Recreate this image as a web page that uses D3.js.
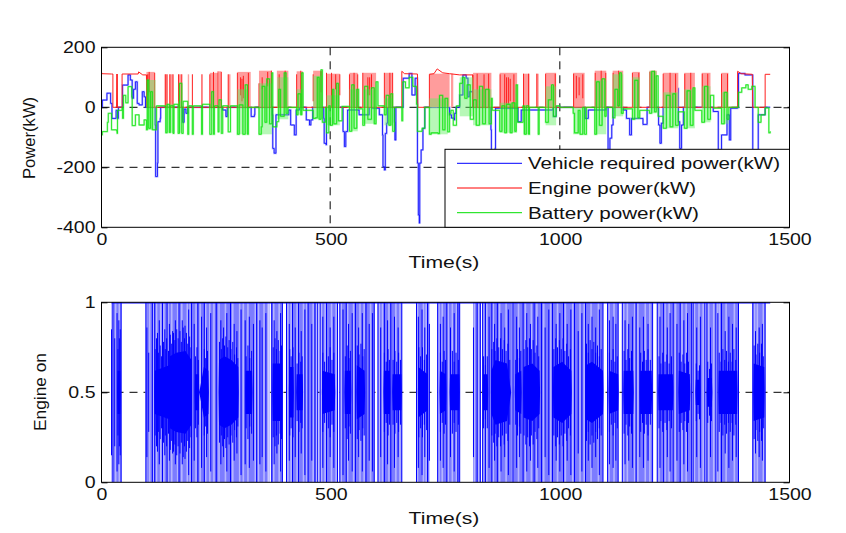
<!DOCTYPE html>
<html>
<head>
<meta charset="utf-8">
<script src="https://cdn.jsdelivr.net/npm/d3@7"></script>
<style>
  html, body { margin: 0; background: #fff; }
  text { font-family: "Liberation Sans", Arial, sans-serif; fill: #111; }
</style>
</head>
<body>
<svg id="chart" width="846" height="533"></svg>
<script>
// all values, time in s, power in kW

var xTicks = [0, 500, 1000, 1500];
var powerTicks = [200, 0, -200, -400];
var engineTicks = [1, 0.5, 0];
var legendNames = ["Vehicle required power(kW)", "Engine power(kW)", "Battery power(kW)"];

// vehicle required power [t, kW]
var vehiclePower = [[0,0],[3,0],[4,24],[11,24],[14,47],[20,47],[22,13],[25,-37],[32,-37],[34,-10],[37,-37],[39,0],[47,0],[48,74],[51,74],[55,74],[60,108],[65,91],[69,30],[72,60],[76,85],[80,13],[84,8],[91,52],[95,35],[98,0],[118,0],[119,-59],[120,-231],[124,-186],[125,-48],[130,-37],[131,0],[178,0],[179,-50],[182,-6],[186,-20],[190,0],[265,0],[266,-9],[273,-31],[276,0],[327,0],[328,-31],[335,-25],[336,0],[373,0],[374,-25],[375,-137],[378,-153],[382,-25],[410,-9],[414,-59],[422,-92],[426,-9],[433,0],[447,0],[448,-42],[455,-59],[458,-42],[462,0],[485,0],[486,-37],[487,-120],[491,-125],[492,0],[501,0],[502,63],[515,63],[516,0],[527,0],[528,-81],[531,-131],[534,-81],[538,-9],[563,-25],[585,52],[592,-3],[607,-25],[614,-92],[615,-198],[618,-209],[620,-87],[623,-53],[625,0],[638,0],[640,-48],[641,-109],[642,-109],[643,0],[658,0],[659,97],[672,113],[678,41],[685,97],[690,-186],[692,-359],[694,-386],[695,-186],[698,-142],[702,-70],[706,0],[731,0],[760,-25],[764,-36],[770,-42],[771,-20],[774,0],[782,41],[789,108],[796,97],[800,35],[803,52],[811,0],[849,0],[850,-75],[851,-160],[858,-160],[859,-137],[860,-3],[909,0],[909,-48],[916,-9],[985,0],[986,-31],[991,-31],[992,0],[1054,0],[1055,-37],[1062,-9],[1100,0],[1105,-142],[1109,-103],[1113,-59],[1116,0],[1138,-9],[1145,-37],[1152,-92],[1156,-37],[1174,-37],[1181,-57],[1189,-57],[1190,0],[1214,0],[1215,-59],[1218,-120],[1221,-53],[1225,0],[1243,63],[1258,-48],[1261,-137],[1265,-59],[1269,0],[1334,-14],[1345,-142],[1352,-92],[1364,-25],[1369,-109],[1372,-3],[1387,0],[1389,113],[1403,108],[1418,108],[1420,-142],[1425,-142],[1432,-25],[1447,0],[1458,0]];

// engine power, line part [t, kW]
var enginePower = [[0,130],[3,112],[24,111],[27,111],[27,0],[35,0],[36,111],[37,0],[47,0],[47,111],[82,111],[83,118],[92,108],[100,108],[101,0],[118,0],[119,0],[142,0],[656,0],[656,120],[662,112],[690,111],[691,0],[716,0],[716,110],[726,112],[733,128],[745,115],[760,112],[782,108],[811,108],[811,0],[1387,0],[1387,120],[1395,112],[1419,110],[1420,0],[1447,0],[1447,110],[1458,110]];

// stretches where the engine trace chops between 0 and full power [from, to, top]
var engineBands = [[100,118,118],[140,145,110],[150,158,110],[169,177,110],[190,193,110],[200,201,110],[220,221,110],[238,256,115],[258,263,120],[278,283,110],[298,327,118],[345,373,122],[384,409,122],[427,441,120],[463,483,122],[492,521,112],[542,560,115],[571,600,115],[618,636,115],[716,760,112],[763,768,112],[811,851,115],[869,907,115],[920,934,112],[949,954,112],[969,992,115],[1029,1054,115],[1076,1101,122],[1115,1138,122],[1158,1174,118],[1195,1211,122],[1225,1258,115],[1271,1294,115],[1309,1328,115],[1352,1367,115]];

// darker lines inside those stretches [t, low, high]
var engineLines = [[36,0,111],[101,0,108],[103,40,110],[106,50,118],[118,0,115],[141,0,110],[145,0,110],[151,0,110],[158,0,110],[170,0,110],[177,0,110],[200,0,110],[221,0,110],[238,0,110],[246,0,118],[256,0,120],[263,0,118],[278,0,110],[298,0,115],[305,40,100],[308,20,95],[311,30,105],[322,0,115],[345,0,80],[352,60,100],[364,70,118],[372,0,122],[389,0,110],[402,0,122],[427,0,110],[436,0,122],[463,20,110],[480,50,120],[492,0,115],[503,0,115],[512,60,110],[521,40,110],[542,0,110],[552,0,115],[560,0,110],[571,0,115],[582,40,100],[586,40,100],[590,60,110],[618,0,115],[630,0,115],[636,0,115],[810,0,108],[820,0,112],[835,0,110],[845,0,112],[870,0,110],[880,0,110],[884,10,100],[888,10,100],[892,20,95],[900,0,110],[921,0,112],[932,0,112],[950,0,112],[969,0,112],[990,0,112],[1030,0,112],[1036,30,105],[1042,40,100],[1050,30,110],[1077,0,115],[1090,0,122],[1100,0,115],[1116,0,115],[1128,0,122],[1158,0,115],[1172,0,115],[1196,0,118],[1206,0,122],[1225,0,112],[1240,0,115],[1252,0,112],[1272,0,112],[1285,0,115],[1310,0,112],[1322,0,112],[1352,0,112],[1365,0,112]];

// battery power line [t, kW]
var batteryPower = [[0,-92],[4,-81],[15,-50],[17,-20],[22,-20],[24,-75],[35,-78],[36,-87],[37,-10],[47,0],[48,-37],[50,40],[55,15],[60,69],[68,35],[69,-61],[76,-25],[84,-59],[95,-42],[100,-75],[102,91],[105,-70],[109,52],[113,-75],[120,-75],[122,5],[140,3],[142,-85],[145,10],[150,-84],[152,5],[158,-87],[160,10],[169,-87],[172,80],[177,-87],[180,20],[190,-90],[192,5],[200,-90],[202,5],[220,-90],[222,10],[238,-90],[242,52],[246,-90],[248,5],[256,-82],[258,25],[263,-87],[266,5],[278,-82],[283,5],[298,-90],[302,8],[310,-90],[315,75],[320,-90],[322,0],[345,-90],[350,-65],[352,70],[358,-50],[362,95],[368,-55],[373,115],[375,-65],[384,-48],[388,60],[392,-30],[400,115],[404,-20],[408,0],[427,-25],[430,45],[436,-25],[438,115],[441,-10],[463,-37],[468,-35],[472,100],[476,-40],[480,125],[483,-50],[490,0],[492,-85],[497,5],[500,-60],[505,60],[508,-55],[514,80],[518,-45],[526,3],[542,-80],[547,75],[552,-70],[558,60],[562,-5],[571,-60],[575,70],[582,-40],[590,65],[596,-55],[600,85],[604,5],[618,-25],[622,40],[628,-60],[632,45],[636,-80],[640,0],[656,-45],[658,85],[664,65],[672,100],[680,70],[688,10],[690,-80],[700,-70],[706,0],[716,-90],[720,-85],[735,-88],[738,40],[745,-75],[750,30],[756,-82],[760,-20],[763,-10],[768,-60],[775,5],[782,80],[788,100],[793,30],[798,75],[805,-40],[812,25],[818,-60],[825,70],[832,-55],[838,60],[846,-55],[851,30],[853,-10],[869,-80],[874,5],[880,-85],[884,10],[892,-85],[896,15],[902,-80],[905,75],[908,-50],[920,5],[923,-90],[927,5],[932,-90],[934,0],[950,0],[953,-90],[955,0],[969,-50],[975,25],[982,75],[986,-30],[992,5],[1000,0],[1029,-20],[1032,-85],[1040,-10],[1044,-90],[1050,0],[1054,-90],[1058,0],[1076,-90],[1080,85],[1086,-60],[1092,95],[1098,-30],[1101,0],[1115,-35],[1120,60],[1126,5],[1130,115],[1134,-20],[1138,-5],[1158,-40],[1163,90],[1170,-35],[1174,-10],[1195,-20],[1200,120],[1206,-15],[1210,105],[1214,-30],[1225,-70],[1232,40],[1240,-65],[1246,45],[1252,-60],[1258,-15],[1271,-70],[1277,55],[1284,-60],[1290,65],[1294,-10],[1309,-50],[1315,70],[1322,-40],[1328,40],[1335,-3],[1352,-55],[1358,50],[1364,-40],[1368,0],[1387,0],[1389,50],[1396,65],[1405,75],[1410,60],[1418,70],[1425,0],[1432,-50],[1438,-25],[1447,-2],[1455,-85],[1458,-80]];

// pale haze left by the fast battery chopping [from, to, low, high]
var batteryBands = [[100,120,-75,91],[142,160,-85,10],[169,177,-85,20],[298,320,-90,60],[345,373,-90,80],[385,409,-40,100],[427,441,-25,60],[463,483,-40,105],[492,521,-60,40],[542,560,-80,60],[571,600,-55,60],[618,636,-60,30],[716,756,-90,30],[782,811,-30,100],[811,851,-60,60],[869,907,-85,15],[920,934,-90,0],[969,992,-60,70],[1029,1054,-90,0],[1076,1101,-90,90],[1115,1138,-30,110],[1158,1174,-40,100],[1195,1211,-20,120],[1225,1258,-70,50],[1271,1294,-70,60],[1309,1328,-50,70],[1352,1367,-55,50]];

// engine on/off: stretches of chopping [from, to]
var onBands = [[24,45],[98,113],[114,364],[371,396],[405,473],[478,516],[521,596],[604,656],[688,716],[734,782],[811,827],[831,1094],[1104,1127],[1136,1202],[1212,1247],[1249,1287],[1290,1316],[1320,1340],[1343,1389],[1420,1447]];

// lighter stripes inside the stretches
var onPale = [26,33,41,100,107,116,122,131,138,147,155,168,177,189,195,208,217,229,238,247,258,272,288,303,311,321,337,344,356,367,377,389,408,415,428,442,449,463,470,481,489,503,513,524,538,551,565,574,588,607,614,628,643,652,690,703,709,737,744,757,766,775,814,823,834,841,855,869,883,897,910,925,938,950,965,980,995,1012,1028,1044,1053,1068,1084,1107,1118,1139,1147,1163,1170,1186,1196,1216,1229,1238,1252,1266,1275,1293,1303,1312,1324,1335,1347,1362,1380,1424,1430,1443];

// solid core around 0.5 in those stretches [t, half height]
var onCore = [[24,0],[36,0],[37,0.12],[43,0.12],[44,0],[117,0],[118,0.12],[150,0.15],[151,0.2],[165,0.22],[185,0.23],[198,0.18],[199,0],[205,0],[206,0.1],[214,0.1],[215,0],[225,0.14],[235,0.12],[236,0],[257,0],[258,0.18],[270,0.2],[285,0.18],[300,0.14],[301,0],[315,0],[316,0.12],[330,0.12],[331,0],[374,0],[375,0.16],[395,0.16],[396,0],[410,0],[411,0.14],[420,0.14],[421,0],[426,0],[427,0.1],[440,0.1],[441,0],[482,0],[483,0.12],[510,0.1],[511,0],[531,0],[532,0.12],[545,0.12],[546,0],[557,0],[558,0.15],[575,0.12],[576,0],[616,0],[617,0.12],[630,0.12],[631,0],[635,0],[636,0.1],[655,0.1],[656,0],[691,0],[692,0.14],[712,0.1],[713,0],[738,0],[739,0.12],[752,0.1],[753,0],[760,0],[761,0.1],[781,0.1],[782,0],[832,0],[833,0.1],[843,0.1],[844,0],[850,0],[851,0.12],[860,0.18],[885,0.16],[894,0],[902,0],[903,0.1],[916,0.12],[917,0],[920,0],[921,0.14],[940,0.16],[956,0.12],[957,0],[985,0],[986,0.14],[1005,0.17],[1025,0.12],[1026,0],[1056,0],[1057,0.15],[1070,0.17],[1094,0.12],[1095,0],[1106,0],[1107,0.12],[1127,0.1],[1128,0],[1138,0],[1139,0.12],[1160,0.12],[1161,0],[1174,0],[1175,0.12],[1200,0.12],[1201,0],[1214,0],[1215,0.1],[1246,0.1],[1247,0],[1258,0],[1259,0.12],[1283,0.1],[1284,0],[1295,0],[1296,0.07],[1305,0.07],[1306,0],[1320,0],[1321,0.08],[1331,0.08],[1332,0],[1345,0],[1346,0.12],[1386,0.12],[1387,0],[1421,0],[1422,0.16],[1445,0.14],[1446,0]];

// jagged edge of the core [t, half height]
var onEdge = [[38,0.24],[41,0.3],[119,0.24],[122,0.3],[126,0.22],[130,0.26],[133,0.2],[137,0.28],[141,0.24],[144,0.3],[148,0.23],[152,0.32],[155,0.27],[159,0.33],[162,0.29],[166,0.35],[169,0.3],[173,0.34],[176,0.28],[180,0.36],[183,0.3],[187,0.33],[190,0.27],[194,0.31],[197,0.25],[207,0.2],[210,0.25],[213,0.18],[226,0.24],[229,0.19],[233,0.23],[259,0.28],[263,0.24],[266,0.3],[270,0.26],[273,0.31],[277,0.25],[280,0.29],[284,0.24],[288,0.28],[292,0.21],[296,0.25],[299,0.19],[317,0.2],[321,0.26],[325,0.19],[329,0.23],[376,0.25],[380,0.3],[383,0.24],[387,0.29],[391,0.23],[394,0.26],[412,0.24],[415,0.2],[419,0.25],[428,0.16],[432,0.22],[436,0.17],[439,0.2],[484,0.22],[488,0.17],[492,0.24],[496,0.2],[500,0.25],[504,0.18],[508,0.22],[533,0.2],[537,0.26],[541,0.19],[544,0.23],[559,0.26],[563,0.21],[567,0.27],[571,0.2],[574,0.24],[618,0.22],[622,0.17],[626,0.24],[629,0.18],[637,0.18],[641,0.23],[645,0.17],[649,0.22],[653,0.18],[693,0.25],[697,0.2],[701,0.25],[705,0.18],[710,0.21],[740,0.22],[744,0.17],[748,0.23],[751,0.18],[762,0.18],[766,0.23],[770,0.17],[774,0.22],[779,0.18],[834,0.2],[838,0.15],[842,0.2],[852,0.24],[856,0.28],[859,0.23],[863,0.3],[867,0.25],[871,0.3],[875,0.24],[879,0.29],[883,0.23],[887,0.27],[891,0.18],[904,0.18],[908,0.24],[912,0.19],[915,0.23],[922,0.24],[926,0.29],[930,0.25],[934,0.3],[938,0.24],[942,0.29],[946,0.22],[950,0.26],[954,0.2],[987,0.24],[991,0.3],[995,0.25],[999,0.29],[1003,0.24],[1007,0.3],[1011,0.23],[1015,0.27],[1019,0.2],[1023,0.24],[1058,0.27],[1062,0.22],[1066,0.29],[1070,0.24],[1074,0.28],[1078,0.22],[1082,0.26],[1086,0.2],[1090,0.24],[1108,0.22],[1112,0.18],[1116,0.24],[1120,0.17],[1125,0.2],[1140,0.23],[1144,0.18],[1148,0.24],[1152,0.19],[1156,0.23],[1176,0.22],[1180,0.17],[1184,0.23],[1188,0.18],[1192,0.24],[1197,0.18],[1216,0.2],[1220,0.16],[1224,0.22],[1229,0.17],[1233,0.21],[1238,0.16],[1243,0.2],[1260,0.22],[1264,0.17],[1268,0.21],[1272,0.16],[1276,0.22],[1280,0.17],[1297,0.16],[1301,0.12],[1304,0.15],[1322,0.17],[1326,0.13],[1330,0.16],[1347,0.22],[1351,0.17],[1355,0.24],[1359,0.18],[1363,0.23],[1367,0.17],[1371,0.22],[1375,0.17],[1379,0.24],[1383,0.18],[1423,0.26],[1427,0.21],[1431,0.27],[1435,0.22],[1439,0.27],[1443,0.2]];

// single chops standing out of the core [t, half height]
var onSpikes = [[24,0.35],[27,0.5],[31,0.3],[36,0.44],[40,0.4],[43,0.35],[45,0.5],[99,0.5],[101,0.36],[105,0.22],[113,0.5],[118,0.5],[124,0.33],[128,0.4],[135,0.5],[140,0.35],[145,0.5],[150,0.38],[157,0.34],[163,0.4],[171,0.5],[178,0.4],[184,0.37],[192,0.46],[198,0.5],[204,0.38],[212,0.5],[220,0.42],[226,0.5],[231,0.36],[240,0.44],[252,0.5],[262,0.4],[268,0.36],[275,0.44],[283,0.5],[291,0.38],[297,0.34],[306,0.46],[315,0.4],[324,0.42],[333,0.38],[340,0.5],[347,0.4],[352,0.36],[360,0.44],[373,0.5],[378,0.4],[384,0.34],[392,0.44],[396,0.5],[405,0.5],[411,0.38],[418,0.5],[424,0.36],[431,0.5],[437,0.34],[445,0.46],[452,0.5],[460,0.38],[467,0.5],[473,0.5],[478,0.5],[484,0.42],[492,0.5],[500,0.36],[508,0.42],[516,0.5],[521,0.5],[528,0.46],[535,0.5],[540,0.38],[548,0.44],[555,0.5],[562,0.36],[570,0.44],[578,0.5],[585,0.38],[592,0.44],[596,0.5],[604,0.5],[610,0.36],[618,0.5],[625,0.4],[632,0.5],[640,0.42],[648,0.36],[656,0.5],[688,0.5],[692,0.42],[700,0.46],[706,0.36],[712,0.5],[716,0.38],[734,0.5],[740,0.38],[746,0.42],[754,0.5],[762,0.36],[770,0.44],[778,0.5],[782,0.5],[812,0.36],[820,0.5],[827,0.5],[832,0.5],[838,0.5],[846,0.42],[852,0.5],[858,0.38],[864,0.5],[872,0.44],[880,0.36],[888,0.46],[898,0.5],[906,0.42],[912,0.36],[920,0.5],[928,0.44],[936,0.38],[944,0.5],[952,0.42],[960,0.5],[968,0.36],[976,0.46],[984,0.5],[992,0.38],[1000,0.44],[1008,0.5],[1016,0.38],[1024,0.46],[1032,0.5],[1040,0.34],[1048,0.44],[1056,0.5],[1062,0.38],[1070,0.42],[1078,0.36],[1086,0.46],[1094,0.5],[1104,0.5],[1108,0.4],[1116,0.42],[1122,0.38],[1127,0.5],[1136,0.5],[1142,0.4],[1150,0.38],[1158,0.42],[1166,0.5],[1174,0.36],[1182,0.42],[1192,0.38],[1202,0.5],[1212,0.5],[1218,0.42],[1226,0.5],[1234,0.36],[1240,0.44],[1247,0.5],[1255,0.38],[1262,0.5],[1270,0.4],[1278,0.44],[1287,0.5],[1290,0.5],[1298,0.36],[1306,0.42],[1316,0.5],[1320,0.5],[1328,0.36],[1340,0.5],[1344,0.44],[1352,0.5],[1360,0.34],[1368,0.42],[1376,0.38],[1384,0.36],[1389,0.5],[1420,0.5],[1426,0.34],[1434,0.36],[1441,0.38],[1447,0.5]];

var svg = d3.select("#chart");
var x = d3.scaleLinear().domain([0, 1500]).range([100.5, 789.5]);
var xLabels = d3.scaleLinear().domain([0, 1500]).range([101.5, 789.5]);
var yPower = d3.scaleLinear().domain([-400, 200]).range([227.3, 47.3]);
var yEngine = d3.scaleLinear().domain([0, 1]).range([482.3, 302.3]);

var left = 101.5, right = 789.5;

function clipTo(id, y0, y1){
  svg.append("clipPath").attr("id", id).append("rect")
    .attr("x", left).attr("y", y0).attr("width", right - left).attr("height", y1 - y0);
}
clipTo("clipTop", 47.3, 227.3);
clipTo("clipBottom", 302.3, 482.3);

function dash(g, x1, y1, x2, y2){
  g.append("line").attr("x1", x1).attr("y1", y1).attr("x2", x2).attr("y2", y2)
    .attr("stroke", "#000").attr("stroke-width", 1).attr("stroke-dasharray", "8,6");
}

// the reference is stretched sideways, so widen every label the same way
function widen(sel, factor){
  sel.each(function(){
    var w = this.getComputedTextLength();
    d3.select(this).attr("textLength", w * factor).attr("lengthAdjust", "spacingAndGlyphs");
  });
}

function tickText(sel){
  sel.select(".domain").remove();
  sel.selectAll("line").attr("stroke", "#000");
  sel.selectAll("text").attr("font-size", 16).style("fill", "#111").call(widen, 1.22);
}

// short inward ticks on the right hand frame
function rightTicks(scale, values){
  svg.append("g").attr("transform", "translate(" + right + ",0)")
    .call(d3.axisRight(scale).tickValues(values).tickSize(-6).tickFormat(""))
    .call(function(g){ g.select(".domain").remove(); g.selectAll("line").attr("stroke", "#000"); });
}

// top panel
var top_ = svg.append("g").attr("clip-path", "url(#clipTop)");
[500, 1000].forEach(function(d){ dash(top_, x(d), 47.3, x(d), 227.3); });
[0, -200].forEach(function(d){ dash(top_, left, yPower(d), right, yPower(d)); });

var powerLine = d3.line().curve(d3.curveStepAfter).x(function(d){return x(d[0])}).y(function(d){return yPower(d[1])});
var engineLinePath = d3.line().x(function(d){return x(d[0])}).y(function(d){return yPower(d[1])});

top_.append("path").datum(vehiclePower).attr("d", powerLine)
  .attr("fill", "none").attr("stroke", "#6a6aff").attr("stroke-opacity", 0.5).attr("stroke-width", 2);
top_.append("path").datum(vehiclePower).attr("d", powerLine)
  .attr("fill", "none").attr("stroke", "#0000ff").attr("stroke-width", 0.8);

top_.selectAll("rect.engine").data(engineBands).enter().append("rect")
  .attr("class", "engine")
  .attr("x", function(d){return x(d[0])})
  .attr("width", function(d){return x(d[1]) - x(d[0])})
  .attr("y", function(d){return yPower(d[2])})
  .attr("height", function(d){return yPower(0) - yPower(d[2])})
  .attr("fill", "#ff9c9c");
top_.selectAll("line.engine").data(engineLines).enter().append("line")
  .attr("class", "engine")
  .attr("x1", function(d){return x(d[0])}).attr("x2", function(d){return x(d[0])})
  .attr("y1", function(d){return yPower(d[1])}).attr("y2", function(d){return yPower(d[2])})
  .attr("stroke", "#ff1010").attr("stroke-width", 0.9);
top_.append("path").datum(enginePower).attr("d", engineLinePath)
  .attr("fill", "none").attr("stroke", "#ff2020").attr("stroke-width", 1);

top_.selectAll("rect.battery").data(batteryBands).enter().append("rect")
  .attr("class", "battery")
  .attr("x", function(d){return x(d[0])})
  .attr("width", function(d){return x(d[1]) - x(d[0])})
  .attr("y", function(d){return yPower(d[3])})
  .attr("height", function(d){return yPower(d[2]) - yPower(d[3])})
  .attr("fill", "#60f060").attr("fill-opacity", 0.45);
top_.append("path").datum(batteryPower).attr("d", powerLine)
  .attr("fill", "none").attr("stroke", "#30f030").attr("stroke-opacity", 0.45).attr("stroke-width", 1.8);
top_.append("path").datum(batteryPower).attr("d", powerLine)
  .attr("fill", "none").attr("stroke", "#00e000").attr("stroke-width", 0.7);

svg.append("g").attr("transform", "translate(0,227.3)")
  .call(d3.axisBottom(xLabels).tickValues(xTicks).tickFormat(d3.format("d")).tickSize(0).tickPadding(6))
  .call(tickText);
svg.append("g").attr("transform", "translate(" + left + ",0)")
  .call(d3.axisLeft(yPower).tickValues(powerTicks).tickSize(-6).tickPadding(6).tickFormat(function(d){return String(d)}))
  .call(tickText);
rightTicks(yPower, powerTicks);

svg.append("rect").attr("x", left).attr("y", 47.3).attr("width", right - left).attr("height", 180)
  .attr("fill", "none").attr("stroke", "#000").attr("stroke-width", 1);

// legend box sits over the lines
var legend = svg.append("g");
legend.append("rect").attr("x", 445).attr("y", 149.3).attr("width", right - 445).attr("height", 78)
  .attr("fill", "#fff").attr("stroke", "#000").attr("stroke-width", 1);
var legendColours = ["#0000ff", "#ff0000", "#00e000"];
var legendY = d3.scalePoint().domain(legendNames).range([163.3, 212.7]);
legendNames.forEach(function(name, i){
  legend.append("line").attr("x1", 457).attr("x2", 522)
    .attr("y1", legendY(name)).attr("y2", legendY(name))
    .attr("stroke", legendColours[i]).attr("stroke-width", 1);
});
var legendWidths = [252, 168, 171];
legendNames.forEach(function(name, i){
  legend.append("text").attr("x", 528).attr("y", legendY(name) + 6)
    .attr("font-size", 16).attr("textLength", legendWidths[i]).attr("lengthAdjust", "spacingAndGlyphs")
    .text(name);
});

// bottom panel
var bottom = svg.append("g").attr("clip-path", "url(#clipBottom)");
dash(bottom, left, yEngine(0.5), right, yEngine(0.5));

bottom.selectAll("rect.on").data(onBands).enter().append("rect")
  .attr("class", "on")
  .attr("x", function(d){return x(d[0])})
  .attr("width", function(d){return x(d[1]) - x(d[0])})
  .attr("y", yEngine(1)).attr("height", yEngine(0) - yEngine(1))
  .attr("fill", "#7c7cff");
bottom.selectAll("line.pale").data(onPale).enter().append("line")
  .attr("class", "pale")
  .attr("x1", function(d){return x(d)}).attr("x2", function(d){return x(d)})
  .attr("y1", yEngine(1)).attr("y2", yEngine(0))
  .attr("stroke", "#b6b6ff").attr("stroke-width", 1.6);
function spikes(name, list){
  bottom.selectAll("line." + name).data(list).enter().append("line")
    .attr("class", name)
    .attr("x1", function(d){return x(d[0])}).attr("x2", function(d){return x(d[0])})
    .attr("y1", function(d){return yEngine(0.5 + d[1])}).attr("y2", function(d){return yEngine(0.5 - d[1])})
    .attr("stroke", "#0000ff").attr("stroke-width", 1);
}
spikes("spike", onSpikes);
bottom.append("path").datum(onCore)
  .attr("d", d3.area().x(function(d){return x(d[0])})
    .y0(function(d){return yEngine(0.5 - d[1])}).y1(function(d){return yEngine(0.5 + d[1])}))
  .attr("fill", "#0000ff");
spikes("edge", onEdge);
// top edge of the on state runs right across
bottom.append("line").attr("x1", x(24)).attr("x2", x(1458)).attr("y1", yEngine(1) + 0.5).attr("y2", yEngine(1) + 0.5)
  .attr("stroke", "#0000ff").attr("stroke-width", 1.2);

svg.append("g").attr("transform", "translate(0,482.3)")
  .call(d3.axisBottom(xLabels).tickValues(xTicks).tickFormat(d3.format("d")).tickSize(0).tickPadding(6))
  .call(tickText);
svg.append("g").attr("transform", "translate(" + left + ",0)")
  .call(d3.axisLeft(yEngine).tickValues(engineTicks).tickSize(-6).tickPadding(6).tickFormat(function(d){return String(d)}))
  .call(tickText);
rightTicks(yEngine, engineTicks);

svg.append("rect").attr("x", left).attr("y", 302.3).attr("width", right - left).attr("height", 180)
  .attr("fill", "none").attr("stroke", "#000").attr("stroke-width", 1);

// axis titles
[268, 524].forEach(function(y){
  svg.append("text").attr("x", 444).attr("y", y).attr("text-anchor", "middle").attr("font-size", 16).text("Time(s)").call(widen, 1.32);
});
svg.append("text").attr("transform", "translate(35,138) rotate(-90)").attr("text-anchor", "middle").attr("font-size", 16).text("Power(kW)").call(widen, 1.04);
svg.append("text").attr("transform", "translate(46,392) rotate(-90)").attr("text-anchor", "middle").attr("font-size", 16).text("Engine on").call(widen, 1.08);
</script>
</body>
</html>
